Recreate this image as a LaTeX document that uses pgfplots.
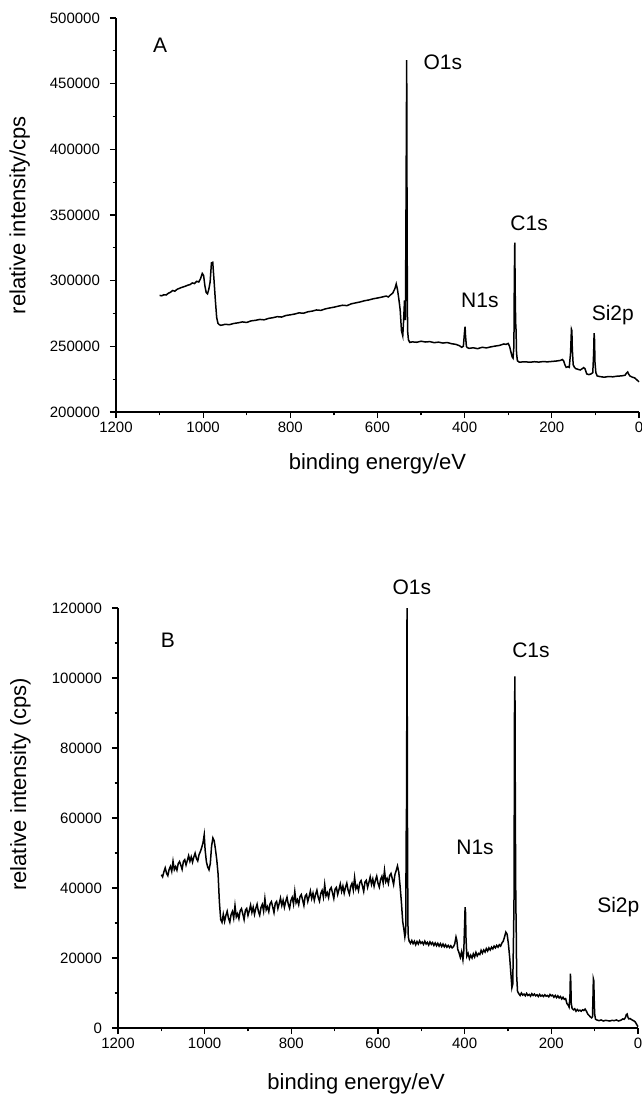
\documentclass[border=0pt]{standalone}
\usepackage{fontspec}
\setmainfont{Liberation Sans}
\usepackage{pgfplots}
\pgfplotsset{compat=1.18}

% shared look of both panels (Origin-like: left and bottom spines only)
\pgfplotsset{xps/.style={
    scale only axis, anchor=south west, clip=false,
    axis x line*=bottom, axis y line*=left,
    axis line style={-, line width=0.8pt},
    x dir=reverse, xmin=0, xmax=1200,
    xtick={0,200,...,1200}, minor x tick num=1, minor y tick num=1,
    tick align=outside, major tick length=3pt, minor tick length=1.7pt,
    tick style={black, line width=0.6pt},
    ticklabel style={font=\fontsize{7.5}{9}\selectfont},
    xticklabel style={yshift=1.5pt},
    yticklabel style={xshift=-1.5pt},
    /pgf/number format/fixed,
    /pgf/number format/assume math mode=true,
    /pgf/number format/1000 sep={},
    scaled ticks=false,
    label style={font=\fontsize{11}{13}\selectfont},
    xlabel={binding energy/eV},
  }
}
\tikzset{pk/.style={font=\fontsize{10.5}{12}\selectfont, inner sep=0pt}}

\begin{document}
\begin{tikzpicture}
\path[use as bounding box] (0pt,0pt) rectangle (321pt,-547pt);

% ---------- panel A ----------
\begin{axis}[xps, at={(58pt,-206pt)}, width=261.5pt, height=197pt,
    ymin=200000, ymax=500000, ytick={200000,250000,...,500000},
    xlabel style={at={(axis description cs:0.5,0)}, anchor=center, yshift=-26pt},
    ylabel={relative intensity/cps},
    ylabel style={at={(axis description cs:-0.184,0.5)}, anchor=center}]
\addplot[black, line width=0.75pt] coordinates {
(1100,288800) (1095,288500) (1090,289300) (1085,289100) (1080,290400) (1075,291200)
(1070,292500) (1065,292000) (1060,293400) (1055,294100) (1050,294800) (1045,295300)
(1040,295900) (1035,296600) (1030,297000) (1025,298300) (1020,297800) (1015,299500)
(1010,299000) (1006,301500) (1002,305500) (999,304000) (996,296000) (993,291000)
(990,290000) (987,293500) (984,299000) (981,313500) (978,314000) (975,300000)
(972,285000) (969,272000) (966,267500) (963,266500) (960,266000) (955,266300)
(950,266800) (940,266500) (930,267400) (920,267900) (910,268600) (900,268200)
(890,269400) (880,269800) (870,270500) (860,270200) (850,271300) (840,271800)
(830,272600) (820,272300) (810,273500) (800,274000) (790,274600) (780,275500)
(770,275200) (760,276300) (750,276800) (740,277700) (730,277400) (720,278500)
(710,279200) (700,279800) (690,280600) (680,281300) (670,281000) (660,282400)
(650,283100) (640,283800) (630,284700) (620,285300) (610,286200) (600,286800)
(590,287500) (580,288300) (575,287600) (570,289200) (565,290500) (560,294000)
(557,297500) (554,293000) (551,286000) (548,278000) (545,262000) (542,258000)
(540,270000) (538,285000) (536,270000) (535,325000) (533,468000) (532,330000)
(531,262000) (529,255000) (526,253000) (520,253400) (510,253100) (500,253900)
(490,253300) (480,253600) (470,252800) (460,253200) (450,252500) (440,252900)
(430,252000) (420,251500) (412,250500) (407,249300) (403,250000) (400,262000)
(399,265000) (398,258000) (396,250000) (394,249000) (390,248500) (380,248900)
(370,248200) (360,249300) (350,248800) (340,249600) (330,250200) (320,250700)
(310,251800) (305,251500) (300,252200) (297,250000) (294,246000) (291,242000)
(289,241000) (287,250000) (286,302000) (285,329000) (284,290000) (283,268000)
(282,262000) (281,245000) (279,239000) (275,238000) (260,238200) (250,237900)
(240,238300) (230,238000) (220,238400) (210,238200) (200,238500) (190,238800)
(180,239300) (176,240000) (173,239000) (170,236000) (167,234000) (163,234500)
(160,234000) (157,245000) (155,263000) (154,262000) (153,248000) (151,236000)
(148,234000) (145,233000) (140,232500) (135,232000) (130,233000) (127,233800)
(124,233000) (120,229000) (115,228500) (110,229000) (106,230000) (104,245000)
(103,260000) (102,255000) (101,238000) (99,230000) (96,227500) (90,227000)
(80,226500) (70,227000) (60,226800) (50,227300) (40,227500) (32,228000)
(29,229500) (26,230500) (24,229000) (21,227500) (15,226500) (10,226000)
(5,224500) (0,223000)
};
\node[pk] at (axis cs:1099,479400) {A};
\node[pk] at (axis cs:450,466500) {O1s};
\node[pk] at (axis cs:365,285300) {N1s};
\node[pk] at (axis cs:252,343900) {C1s};
\node[pk] at (axis cs:60,273900) {Si2p};
\end{axis}

% ---------- panel B ----------
\begin{axis}[xps, at={(59pt,-514pt)}, width=260pt, height=210pt,
    ymin=0, ymax=120000, ytick={0,20000,...,120000},
    xlabel style={at={(axis description cs:0.458,0)}, anchor=center, yshift=-28pt},
    ylabel={relative intensity (cps)},
    ylabel style={at={(axis description cs:-0.1875,0.58)}, anchor=center}]
\addplot[black, line width=0.75pt] coordinates {
(1100,43800) (1097,43180) (1094,44670) (1091,45750) (1088,44230) (1085,43515)
(1082,45300) (1079,46180) (1076,44760) (1073,47650) (1070,45230) (1067,46110)
(1064,45100) (1061,46980) (1058,47560) (1055,46545) (1052,45330) (1049,47610)
(1046,48090) (1043,46580) (1040,47860) (1037,49240) (1034,47630) (1031,48910)
(1028,47390) (1025,48880) (1022,49960) (1019,48440) (1016,47720) (1013,49510)
(1010,50390) (1007,51500) (1004,52800) (1001,55200) (999,51000) (996,47500)
(993,46000) (990,45200) (987,47000) (984,52000) (981,54300) (978,53500)
(975,51000) (972,48000) (969,44000) (966,36000) (963,31000) (960,30200)
(957,32490) (954,30475) (951,32160) (948,33350) (945,31340) (942,30220)
(939,32410) (936,33300) (933,31390) (930,34970) (927,31760) (924,32650)
(921,31235) (918,33520) (915,34110) (912,32600) (909,30980) (906,33670)
(903,34160) (900,32150) (897,33530) (894,35120) (891,33010) (888,34500)
(885,32480) (882,34170) (879,35360) (876,33340) (873,32230) (870,34420)
(867,35310) (864,33390) (861,36980) (858,33770) (855,34660) (852,33240)
(849,35530) (846,36120) (843,34600) (840,32990) (837,35680) (834,36170)
(831,34150) (828,35540) (825,37130) (822,35020) (819,36500) (816,34490)
(813,36180) (810,37370) (807,35350) (804,34240) (801,36430) (798,37310)
(795,35400) (792,38990) (789,35780) (786,36660) (783,35250) (780,37540)
(777,38130) (774,36610) (771,35000) (768,37690) (765,38180) (762,36160)
(759,37550) (756,39140) (753,37020) (750,38510) (747,36500) (744,38190)
(741,39370) (738,37360) (735,36250) (732,38440) (729,39320) (726,37410)
(723,41000) (720,37780) (717,38670) (714,37260) (711,39550) (708,40130)
(705,38620) (702,37010) (699,39700) (696,40180) (693,38170) (690,39560)
(687,41140) (684,39030) (681,40520) (678,38510) (675,40190) (672,41380)
(669,39370) (666,38260) (663,40440) (660,41330) (657,39420) (654,43000)
(651,39790) (648,40680) (645,39270) (642,41550) (639,42140) (636,40630)
(633,39020) (630,41700) (627,42190) (624,40180) (621,41570) (618,43150)
(615,41040) (612,42530) (609,40510) (606,42200) (603,43390) (600,41380)
(597,40260) (594,42450) (591,43340) (588,41420) (585,45010) (582,41800)
(579,42690) (576,41270) (573,43560) (570,44150) (567,42640) (564,41020)
(561,43800) (558,45000) (555,46300) (552,44500) (549,40500) (546,36000)
(543,30500) (540,28000) (538,26000) (536,27500) (535,54000) (534,65000)
(533,120000) (532,60000) (531,30000) (530,26000) (528,24800) (525,24200)
(522,25000) (519,24100) (516,24800) (513,23800) (510,24700) (507,24000)
(504,24900) (501,24200) (498,24600) (495,23900) (492,24800) (489,24000)
(486,24500) (483,23700) (480,24600) (477,23900) (474,24400) (471,23600)
(468,24300) (465,23500) (462,24200) (459,23400) (456,24100) (453,23300)
(450,24000) (447,23200) (444,23800) (441,23100) (438,23600) (435,23000)
(432,23500) (429,22900) (426,23200) (423,24000) (420,26000) (418,25000)
(416,22500) (413,21500) (410,20200) (407,21800) (404,19500) (402,22000)
(400,30000) (399,34500) (398,33000) (397,26000) (395,20500) (392,21300)
(389,19800) (386,20800) (383,20000) (380,21200) (377,20300) (374,21600)
(371,20600) (368,21300) (365,21000) (362,22200) (359,21400) (356,22300)
(353,21700) (350,22700) (347,22000) (344,22900) (341,22300) (338,23100)
(335,22600) (332,23400) (329,22900) (326,23600) (323,23100) (320,23800)
(317,23400) (314,24300) (311,24800) (308,26000) (305,27400) (302,26800)
(299,24000) (296,20000) (293,15000) (291,11500) (289,12500) (287,28000)
(286,38000) (285,90000) (284,100500) (283,60000) (282,37000) (281,28000)
(280,15000) (278,10500) (275,9800) (272,9300) (269,10000) (266,9400)
(263,9700) (260,9200) (257,9900) (254,9300) (251,9600) (248,9100)
(245,9800) (242,9300) (239,9700) (236,9200) (233,9500) (230,9000)
(227,9600) (224,9100) (221,9400) (218,9000) (215,9500) (212,9100)
(209,9300) (206,8900) (203,9600) (200,9200) (197,9400) (194,8800)
(191,9300) (188,8700) (185,9200) (182,8600) (179,9000) (176,8300)
(173,8800) (170,8200) (167,8400) (164,7000) (161,6500) (159,6000)
(157,9000) (156,15500) (155,13000) (154,7000) (152,5600) (149,5200)
(146,5500) (143,4800) (140,5300) (137,4900) (134,5100) (131,4800)
(128,5200) (125,5000) (122,5400) (119,4800) (116,4000) (113,3600)
(110,3200) (107,2900) (105,3200) (104,8000) (103,14000) (102,13500)
(101,8000) (100,4000) (98,2500) (95,2300) (90,2100) (85,2300)
(80,2000) (75,2200) (70,2100) (65,2000) (60,2200) (55,2100)
(50,2300) (45,2000) (40,2200) (35,2600) (32,2500) (29,3000)
(27,3800) (25,4000) (23,3000) (21,2600) (18,2700) (15,2400)
(12,2200) (9,2000) (6,1700) (3,1000) (0,400)
};
\node[pk] at (axis cs:1085,110900) {B};
\node[pk] at (axis cs:522,126000) {O1s};
\node[pk] at (axis cs:247,108000) {C1s};
\node[pk] at (axis cs:376,51700) {N1s};
\node[pk, anchor=east] at (axis cs:-4,34600) {Si2p};
\end{axis}
\end{tikzpicture}
\end{document}
